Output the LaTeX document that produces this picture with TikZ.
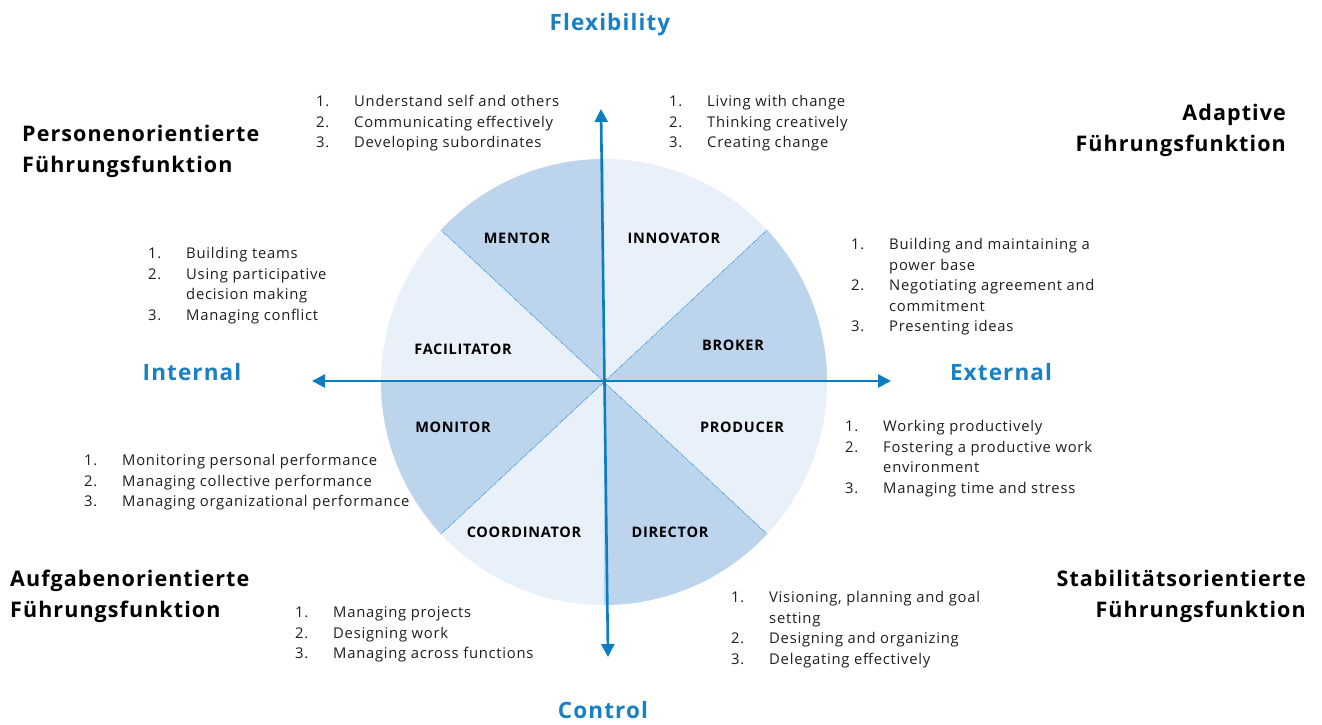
\documentclass[tikz,border=0pt]{standalone}
\usepackage{fontspec}
\setmainfont{Open Sans}[LetterSpace=5]
\usetikzlibrary{arrows.meta}
\definecolor{axisblue}{HTML}{0B7EC1}
\definecolor{lblblue}{HTML}{1A80C4}
\definecolor{darkseg}{HTML}{BDD5EC}
\definecolor{lightseg}{HTML}{E8F0FA}
\definecolor{txt}{HTML}{1E1E1E}
\tikzset{
  lst/.style={inner sep=0pt, anchor=base west, text=txt, font=\fontsize{14.8}{20.5}\selectfont},
  headL/.style={inner sep=0pt, anchor=base west, text=black, font=\fontsize{21.5}{31}\selectfont\bfseries},
  headR/.style={inner sep=0pt, anchor=base east, text=black, font=\fontsize{21.5}{31}\selectfont\bfseries},
  axlabel/.style={inner sep=0pt, anchor=base, text=lblblue, font=\fontsize{22.5}{28}\selectfont\bfseries},
  role/.style={inner sep=0pt, anchor=base, text=black, font=\fontsize{14.5}{18}\selectfont\bfseries},
  axis/.style={draw=axisblue, line width=2.6pt, {Triangle[length=13pt,width=13pt]}-{Triangle[length=13pt,width=13pt]}},
  divider/.style={draw=axisblue, line width=0.7pt, densely dotted}
}
\newcommand{\lstbox}[1]{\begin{tabular}[t]{@{}p{38pt}@{}l@{}}#1\end{tabular}}
\begin{document}
\begin{tikzpicture}[x=1pt,y=-1pt]
\useasboundingbox (0,0) rectangle (1322,724);
\coordinate (C) at (604,382);
% pie
\begin{scope}[shift={(C)}, yscale=-1]
  \fill[lightseg] (0,0) circle[radius=223];
  \fill[darkseg] (0,0) -- (90:223) arc[start angle=90, end angle=137, radius=223] -- cycle;
  \fill[darkseg] (0,0) -- (0:223) arc[start angle=0, end angle=43, radius=223] -- cycle;
  \fill[darkseg] (0,0) -- (-43:223) arc[start angle=-43, end angle=-90, radius=223] -- cycle;
  \fill[darkseg] (0,0) -- (180:223) arc[start angle=180, end angle=223, radius=223] -- cycle;
  \coordinate (D1) at (137:223);
  \coordinate (D2) at (43:223);
  \coordinate (D3) at (-43:223);
  \coordinate (D4) at (223:223);
\end{scope}
\draw[divider] (C) -- (D1);
\draw[divider] (C) -- (D2);
\draw[divider] (C) -- (D3);
\draw[divider] (C) -- (D4);
% axes
\coordinate (W) at (312,381);
\coordinate (E) at (891,381);
\coordinate (N) at (601,109);
\coordinate (S) at (608,657);
\draw[axis] (W) -- (E);
\draw[axis] (N) -- (S);
% axis labels
\node[axlabel] (flex) at (610,30) {Flexibility};
\node[axlabel] (ctrl) at (603,718) {Control};
\node[axlabel] (intl) at (192,380) {Internal};
\node[axlabel] (extl) at (1001,380) {External};
% roles
\node[role] (mentor) at (517,243) {MENTOR};
\node[role] (innov) at (674,243) {INNOVATOR};
\node[role] (broker) at (733,350) {BROKER};
\node[role] (facil) at (463,354) {FACILITATOR};
\node[role] (monit) at (453,432) {MONITOR};
\node[role] (produ) at (742,432) {PRODUCER};
\node[role] (coord) at (524,537) {COORDINATOR};
\node[role] (direc) at (670,537) {DIRECTOR};
% headings
\node[headL] (hPers) at (22,141) {\begin{tabular}[t]{@{}l@{}}Personenorientierte\\F\"uhrungsfunktion\end{tabular}};
\node[headR] (hAdap) at (1286,120) {\begin{tabular}[t]{@{}r@{}}Adaptive\\F\"uhrungsfunktion\end{tabular}};
\node[headL] (hAufg) at (10,586) {\begin{tabular}[t]{@{}l@{}}Aufgabenorientierte\\F\"uhrungsfunktion\end{tabular}};
\node[headR] (hStab) at (1306,586) {\begin{tabular}[t]{@{}r@{}}Stabilit\"atsorientierte\\F\"uhrungsfunktion\end{tabular}};
% lists
\node[lst] (lMentor) at (316,106.5) {\lstbox{1.&Understand self and others\\2.&Communicating effectively\\3.&Developing subordinates}};
\node[lst] (lInnov) at (669,106.5) {\lstbox{1.&Living with change\\2.&Thinking creatively\\3.&Creating change}};
\node[lst] (lBroker) at (851,249.5) {\lstbox{1.&Building and maintaining a\\&power base\\2.&Negotiating agreement and\\&commitment\\3.&Presenting ideas}};
\node[lst] (lFacil) at (148,258.5) {\lstbox{1.&Building teams\\2.&Using participative\\&decision making\\3.&Managing conflict}};
\node[lst] (lMonit) at (84,465.5) {\lstbox{1.&Monitoring personal performance\\2.&Managing collective performance\\3.&Managing organizational performance}};
\node[lst] (lProdu) at (845,431.5) {\lstbox{1.&Working productively\\2.&Fostering a productive work\\&environment\\3.&Managing time and stress}};
\node[lst] (lCoord) at (295,617.5) {\lstbox{1.&Managing projects\\2.&Designing work\\3.&Managing across functions}};
\node[lst] (lDirec) at (731,602.5) {\lstbox{1.&Visioning, planning and goal\\&setting\\2.&Designing and organizing\\3.&Delegating effectively}};
\end{tikzpicture}
\end{document}
